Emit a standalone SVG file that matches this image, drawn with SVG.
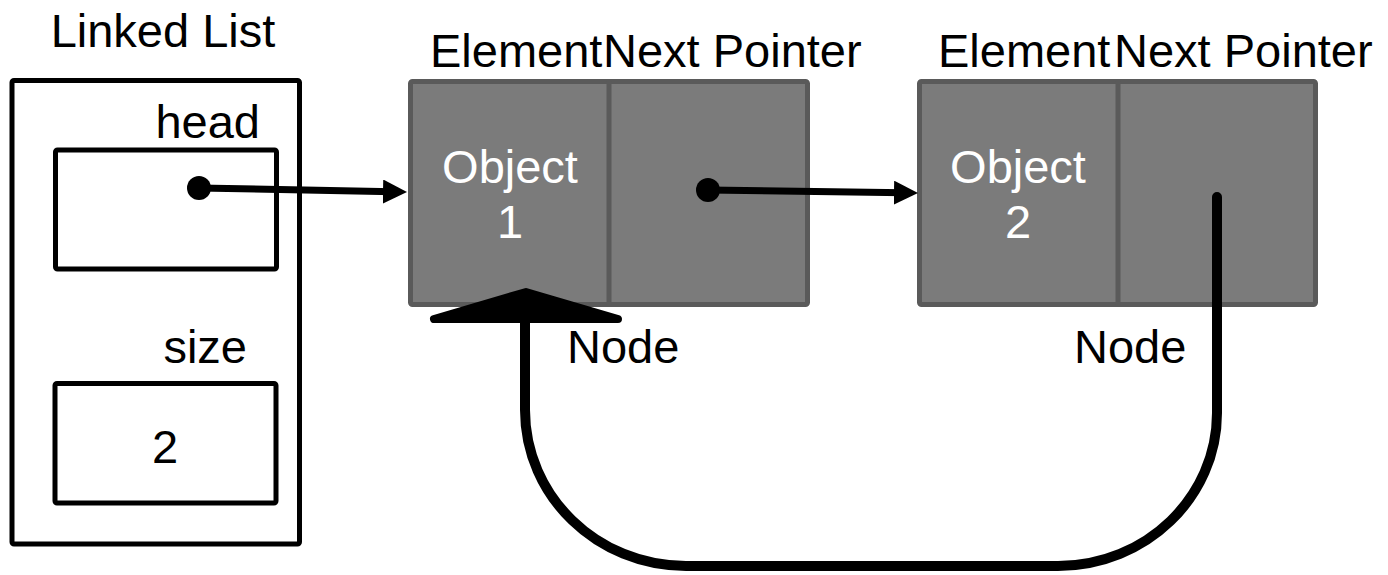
<svg xmlns="http://www.w3.org/2000/svg" width="1388" height="575" viewBox="0 0 1388 575">
  <style>
    text { font-family: "Liberation Sans", Arial, sans-serif; font-size: 47px; fill: #000; }
    .white { fill: #fff; }
    .mid { text-anchor: middle; }
    .end { text-anchor: end; }
    .box { fill: #fff; stroke: #000; stroke-width: 5; }
    .cell { fill: #7b7b7b; stroke: #5a5a5a; stroke-width: 5; }
    .divider { stroke: #5a5a5a; stroke-width: 5; }
    .link { stroke: #000; stroke-width: 7; fill: none; }
    .loop { stroke: #000; stroke-width: 10; fill: none; stroke-linecap: round; }
  </style>
  <defs>
    <marker id="arrow" markerUnits="userSpaceOnUse" markerWidth="24" markerHeight="24" refX="10" refY="12" orient="auto">
      <path d="M0,0 L24,12 L0,24 z" fill="#000"/>
    </marker>
  </defs>

  <rect width="1388" height="575" fill="#fff"/>

  <!-- Linked list container -->
  <g id="linked-list">
    <text x="163" y="47" class="mid">Linked List</text>
    <rect class="box" x="12" y="80.5" width="287.5" height="463.5" rx="2"/>
    <text x="260" y="138" class="end">head</text>
    <rect class="box" x="55.5" y="150" width="221" height="119" rx="2"/>
    <text x="247" y="363" class="end">size</text>
    <rect class="box" x="55" y="383.5" width="221" height="119.5" rx="2"/>
    <text x="165" y="463" class="mid">2</text>
  </g>

  <!-- First node -->
  <g id="node-1">
    <text x="430" y="67">Element</text>
    <text x="603" y="67">Next Pointer</text>
    <rect class="cell" x="410.5" y="81.5" width="397" height="223" rx="2"/>
    <line class="divider" x1="609" y1="81.5" x2="609" y2="304.5"/>
    <text x="510" y="183" class="mid white">Object</text>
    <text x="510" y="238" class="mid white">1</text>
    <text x="567" y="363">Node</text>
  </g>

  <!-- Second node -->
  <g id="node-2">
    <text x="938" y="67">Element</text>
    <text x="1114" y="67">Next Pointer</text>
    <rect class="cell" x="919.5" y="81.5" width="396" height="223" rx="2"/>
    <line class="divider" x1="1118" y1="81.5" x2="1118" y2="304.5"/>
    <text x="1018" y="183" class="mid white">Object</text>
    <text x="1018" y="238" class="mid white">2</text>
    <text x="1074" y="363">Node</text>
  </g>

  <!-- Pointers between structures -->
  <g id="connectors">
    <circle cx="199" cy="188" r="12" fill="#000"/>
    <line class="link" x1="199" y1="188" x2="393" y2="191.7" marker-end="url(#arrow)"/>
    <circle cx="708" cy="190" r="12" fill="#000"/>
    <line class="link" x1="708" y1="190" x2="904" y2="192.8" marker-end="url(#arrow)"/>
    <path class="loop" d="M1217,197 L1217,413 C1217,497 1146,566 1058,566 L686,566 C597,566 525,496 525,410 L525,318"/>
    <polygon points="526,292 434,319 618,319" fill="#000" stroke="#000" stroke-width="8" stroke-linejoin="round"/>
  </g>
</svg>
